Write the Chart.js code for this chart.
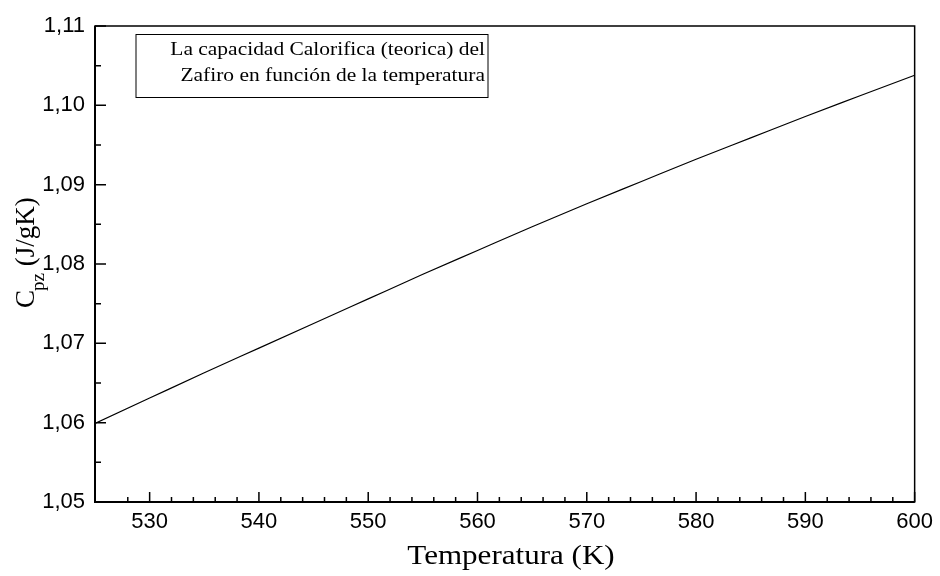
<!DOCTYPE html>
<html>
<head>
<meta charset="utf-8">
<script src="https://cdn.jsdelivr.net/npm/chart.js@4.4.1/dist/chart.umd.min.js"></script>
<style>
  body { margin: 0; background: #fff; }
  #wrap { width: 940px; height: 576px; }
</style>
</head>
<body>
<div id="wrap"><canvas id="cpChart" width="940" height="576"></canvas></div>
<script>
// Temperatura (K) y Cpz (J/gK)
const temps = [525, 530, 535, 540, 545, 550, 555, 560, 565, 570, 575, 580, 585, 590, 595, 600];
const cp = [1.0599, 1.0631, 1.0663, 1.0694, 1.0725, 1.0756, 1.0787, 1.0817,
            1.0847, 1.0876, 1.0904, 1.0932, 1.0959, 1.0986, 1.1012, 1.1038];
const xTickLabels = [530, 540, 550, 560, 570, 580, 590, 600];
const yTickLabels = [1.05, 1.06, 1.07, 1.08, 1.09, 1.10, 1.11];
const legendLines = ['La capacidad Calorifica (teorica) del', 'Zafiro en función de la temperatura'];

const serif = '"Liberation Serif", "Times New Roman", serif';
const isMajor = (v, list) => list.some(t => Math.abs(t - v) < 1e-6);

// texto algo ensanchado, como en la figura original
function wideText(ctx, text, x, y, align, sx) {
    ctx.save();
    ctx.translate(x, y);
    ctx.scale(sx, 1);
    ctx.textAlign = align;
    ctx.fillText(text, 0, 0);
    ctx.restore();
}

// marco, ticks hacia adentro, titulos y caja de texto
const framePlugin = {
    id: 'frame',
    afterDraw(chart) {
        const ctx = chart.ctx;
        const a = chart.chartArea;
        const xs = chart.scales.x, ys = chart.scales.y;
        ctx.save();
        ctx.strokeStyle = '#000';
        ctx.lineWidth = 1.5;
        ctx.strokeRect(a.left, a.top, a.right - a.left, a.bottom - a.top);
        ctx.lineWidth = 2;
        ctx.beginPath();
        ctx.moveTo(a.left, a.top);
        ctx.lineTo(a.left, a.bottom);
        ctx.lineTo(a.right, a.bottom);
        ctx.stroke();

        ctx.lineWidth = 1.5;
        ctx.beginPath();
        xs.ticks.forEach(t => {
            if (t.value === 525) return;
            const px = xs.getPixelForValue(t.value);
            const len = isMajor(t.value, xTickLabels) ? 10 : 5;
            ctx.moveTo(px, a.bottom);
            ctx.lineTo(px, a.bottom - len);
        });
        ys.ticks.forEach(t => {
            if (Math.abs(t.value - 1.05) < 1e-6) return;
            const py = ys.getPixelForValue(t.value);
            const len = isMajor(t.value, yTickLabels) ? 11 : 6;
            ctx.moveTo(a.left, py);
            ctx.lineTo(a.left + len, py);
        });
        ctx.stroke();

        // caja de leyenda
        ctx.lineWidth = 1;
        ctx.strokeRect(136, 34.5, 352, 63);
        ctx.fillStyle = '#000';
        ctx.textBaseline = 'alphabetic';
        ctx.font = '19px ' + serif;
        wideText(ctx, legendLines[0], 485, 55, 'right', 1.13);
        wideText(ctx, legendLines[1], 485, 81, 'right', 1.13);

        // titulo eje x
        ctx.font = '27px ' + serif;
        wideText(ctx, 'Temperatura (K)', 511, 564, 'center', 1.15);

        // titulo eje y con subindice
        ctx.translate(34, 308);
        ctx.rotate(-Math.PI / 2);
        ctx.textAlign = 'left';
        ctx.font = '27px ' + serif;
        ctx.fillText('C', 0, 0);
        let w = ctx.measureText('C').width;
        ctx.font = '19px ' + serif;
        ctx.fillText('pz', w - 1, 10);
        w += ctx.measureText('pz').width - 1;
        ctx.font = '27px ' + serif;
        ctx.fillText(' (J/gK)', w, 0);
        ctx.restore();
    }
};

const ctx = document.getElementById('cpChart').getContext('2d');
const cpChart = new Chart(ctx, {
    type: 'line',
    data: {
        datasets: [{
            data: temps.map((t, i) => ({ x: t, y: cp[i] })),
            borderColor: '#000',
            borderWidth: 1.2,
            pointRadius: 0,
            fill: false,
            cubicInterpolationMode: 'monotone'
        }]
    },
    options: {
        responsive: false,
        animation: false,
        layout: { padding: { top: 26, right: 24, left: 0, bottom: 0 } },
        plugins: { legend: { display: false }, tooltip: { enabled: false } },
        scales: {
            x: {
                type: 'linear',
                min: 525,
                max: 600,
                grid: { display: false, drawTicks: false },
                border: { display: false },
                afterFit: s => { s.height = 74; },
                ticks: {
                    stepSize: 2,
                    autoSkip: false,
                    maxRotation: 0,
                    padding: 7,
                    color: '#000',
                    font: { family: '"Liberation Sans", Arial, sans-serif', size: 22 },
                    callback: v => isMajor(v, xTickLabels) ? String(v) : ''
                }
            },
            y: {
                min: 1.05,
                max: 1.11,
                grid: { display: false, drawTicks: false },
                border: { display: false },
                afterFit: s => { s.width = 95; },
                ticks: {
                    stepSize: 0.005,
                    autoSkip: false,
                    padding: 10,
                    color: '#000',
                    font: { family: '"Liberation Sans", Arial, sans-serif', size: 22 },
                    callback: v => isMajor(v, yTickLabels) ? v.toFixed(2).replace('.', ',') : ''
                }
            }
        }
    },
    plugins: [framePlugin]
});
</script>
</body>
</html>
